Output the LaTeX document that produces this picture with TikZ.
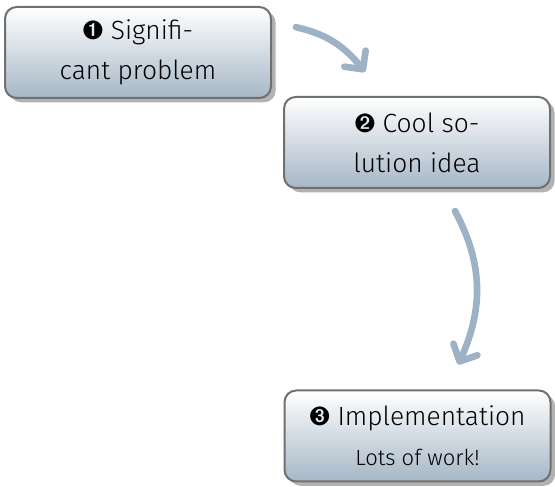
\documentclass[tikz,border=0pt]{standalone}
\usepackage{fontspec}
\setmainfont{Fira Sans Light}
\usepackage{pifont}
\usetikzlibrary{positioning,shadows,arrows.meta,bending}
\definecolor{boxbot}{RGB}{166,183,199}
\definecolor{boxline}{RGB}{112,112,112}
\definecolor{flowblue}{RGB}{158,178,198}

\begin{document}
\begin{tikzpicture}[x=1pt,y=1pt,
  stepbox/.style={draw=boxline, line width=0.6pt, rounded corners=3.5pt,
    top color=white, bottom color=boxbot, minimum width=79.8pt,
    minimum height=27.3pt, align=center, font=\fontsize{7.9}{12}\selectfont,
    drop shadow={shadow xshift=1.4pt, shadow yshift=-1.3pt, fill=black, opacity=0.3}},
  flow/.style={draw=flowblue, line width=2pt, line cap=round,
    -{Straight Barb[round, length=4pt, width=8pt, flex]}}]
\useasboundingbox (0,0) rectangle (166.5,-146.1);
% the three steps
\node[stepbox] (prob) at (41.4,-15.75) {\ding{202} Signifi-\\cant problem};
\node[stepbox] (idea) at (125.1,-42.75) {\ding{203} Cool so-\\lution idea};
\node[stepbox] (impl) at (125.25,-130.8) {\ding{204} Implementation\\{\fontsize{6.6}{10}\selectfont Lots of work!}};
% arrows between steps
\draw[flow] ([shift={(7.2,7.6)}]prob.east) to[bend left=20] ([shift={(-15.6,7.2)}]idea.north);
\draw[flow] ([shift={(11.4,-6.6)}]idea.south) to[bend left=27] ([shift={(12.2,7.5)}]impl.north);
\end{tikzpicture}
\end{document}
